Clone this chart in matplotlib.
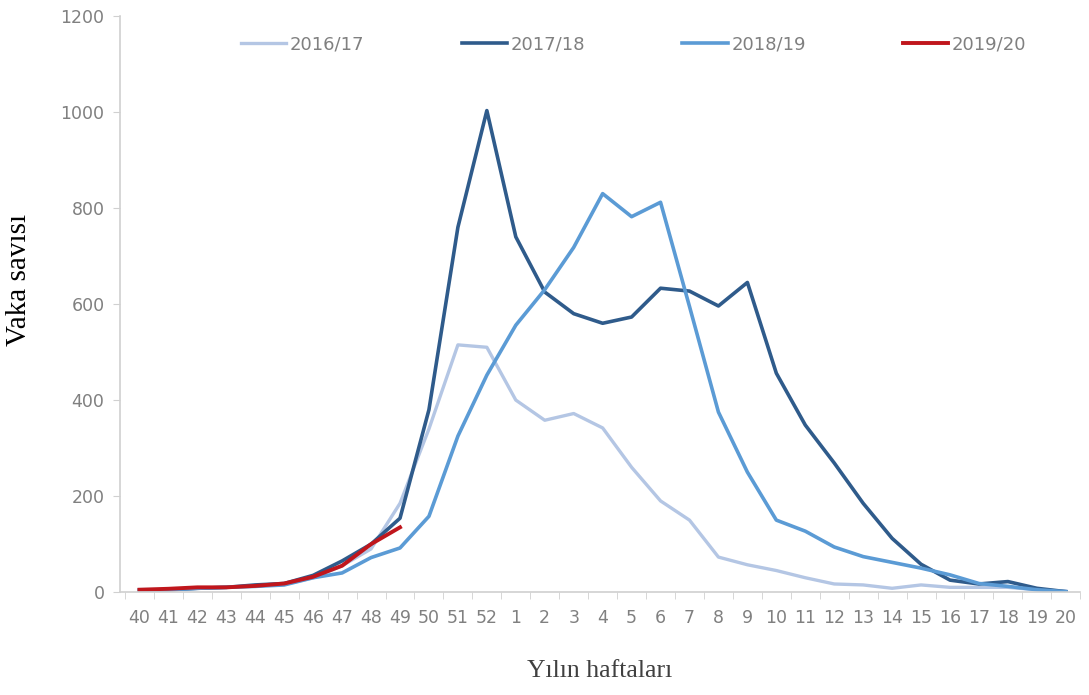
import matplotlib.pyplot as plt
import numpy as np

weeks = ['40', '41', '42', '43', '44', '45', '46', '47', '48', '49', '50', '51', '52',
         '1', '2', '3', '4', '5', '6', '7', '8', '9', '10', '11', '12', '13', '14',
         '15', '16', '17', '18', '19', '20']

s2016 = [3, 5, 8, 10, 13, 16, 30, 55, 90, 185, 340, 515, 510, 400, 358, 372, 342,
         260, 190, 150, 73, 57, 45, 30, 17, 15, 8, 15, 10, 10, 10, 5, 2]
s2017 = [5, 5, 8, 10, 15, 18, 35, 65, 100, 154, 380, 760, 1003, 740, 625, 580, 560,
         573, 633, 627, 596, 645, 456, 348, 269, 185, 112, 58, 25, 17, 22, 8, 1]
s2018 = [3, 5, 8, 10, 12, 15, 30, 40, 72, 92, 158, 325, 452, 556, 630, 718, 830,
         782, 812, 595, 375, 250, 150, 127, 94, 74, 62, 50, 36, 18, 12, 5, 1]
s2019 = [5, 7, 10, 10, 13, 18, 32, 55, 100, 135]

grey = '#808080'
x = np.arange(len(weeks))

fig = plt.figure(figsize=(10.89, 6.95), dpi=100)
ax = fig.add_axes([0.110, 0.148, 0.882, 0.829])

ax.plot(x, s2016, color='#b4c6e4', lw=2.4, label='2016/17')
ax.plot(x, s2017, color='#2f5b8b', lw=2.6, label='2017/18')
ax.plot(x, s2018, color='#5b9bd5', lw=2.6, label='2018/19')
ax.plot(x[:len(s2019)], s2019, color='#c0161c', lw=2.8, label='2019/20')

ax.set_xlim(-0.68, 32.17)
ax.set_ylim(0, 1200)
ax.set_yticks(range(0, 1201, 200))
ax.set_xticks(x)
ax.set_xticklabels(weeks)
ax.set_xticks(np.arange(-0.5, len(weeks), 1), minor=True)

for side in ['top', 'right']:
    ax.spines[side].set_visible(False)
for side in ['left', 'bottom']:
    ax.spines[side].set_color('#d0d0d0')
    ax.spines[side].set_linewidth(1.2)

ax.tick_params(axis='y', colors='#d0d0d0', labelcolor=grey, labelsize=12.5, length=5, pad=6)
ax.tick_params(axis='x', which='major', length=0, labelcolor=grey, labelsize=12.5, pad=12)
ax.tick_params(axis='x', which='minor', length=5, color='#d0d0d0')

ax.set_ylabel('Vaka savısı', family='Liberation Serif', fontsize=21, color='black')
ax.yaxis.set_label_coords(-0.0917, 0.542)
ax.set_xlabel('Yılın haftaları', family='Liberation Serif', fontsize=18.5, color='#404040')
ax.xaxis.set_label_coords(0.5, -0.118)

leg = ax.legend(loc='center', bbox_to_anchor=(0.535, 0.951), ncol=4, frameon=False,
                fontsize=13, handlelength=2.5, handletextpad=0.2, columnspacing=5.4)
for t in leg.get_texts():
    t.set_color(grey)

fig.savefig('out.png', dpi=100)
